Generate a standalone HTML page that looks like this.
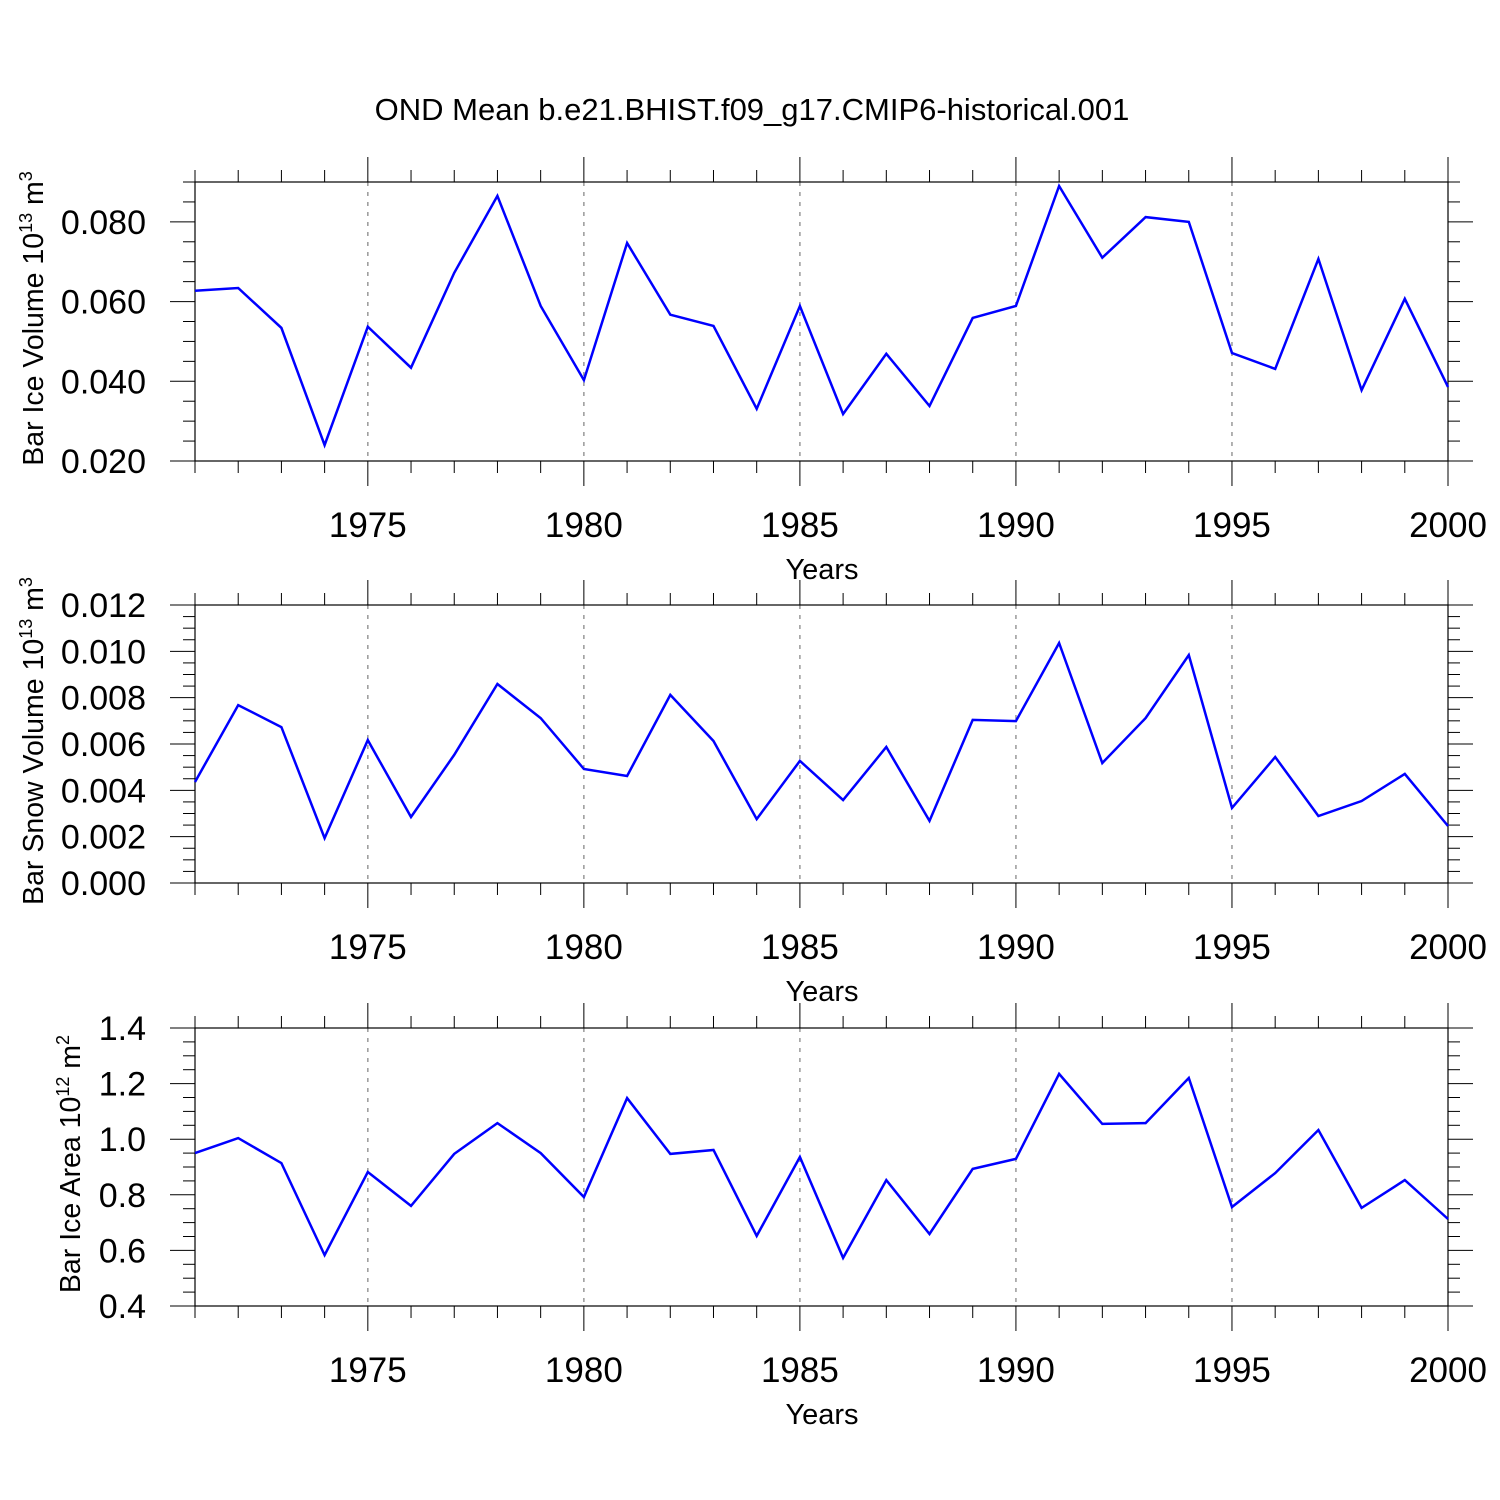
<!DOCTYPE html>
<html><head><meta charset="utf-8"><style>
html,body{margin:0;padding:0;background:#fff;}
svg{display:block;font-family:"Liberation Sans",Arial,sans-serif;}
</style></head><body>
<svg id="chart" width="1500" height="1500" viewBox="0 0 1500 1500" xmlns="http://www.w3.org/2000/svg">
<rect width="1500" height="1500" fill="#fff"/>
<text x="752" y="120" font-size="31" text-anchor="middle">OND Mean b.e21.BHIST.f09_g17.CMIP6-historical.001</text>
</svg>
<script>
const years = [1971,1972,1973,1974,1975,1976,1977,1978,1979,1980,1981,1982,1983,1984,1985,1986,1987,1988,1989,1990,1991,1992,1993,1994,1995,1996,1997,1998,1999,2000];
const iceVolume = [0.0627,0.0634,0.0534,0.0240,0.0537,0.0434,0.0672,0.0865,0.0589,0.0403,0.0747,0.0567,0.0539,0.0331,0.0589,0.0318,0.0469,0.0338,0.0559,0.0589,0.0890,0.0710,0.0812,0.0800,0.0471,0.0431,0.0707,0.0378,0.0607,0.0386];
const snowVolume = [0.00436,0.00768,0.00673,0.00194,0.00617,0.00285,0.00553,0.00859,0.00712,0.00492,0.00462,0.00812,0.00613,0.00276,0.00527,0.00358,0.00587,0.00268,0.00704,0.00699,0.01036,0.00518,0.00712,0.00984,0.00324,0.00544,0.00289,0.00354,0.00471,0.00246];
const iceArea = [0.950,1.004,0.914,0.583,0.882,0.760,0.947,1.058,0.950,0.792,1.148,0.947,0.961,0.652,0.936,0.573,0.853,0.659,0.893,0.929,1.235,1.055,1.058,1.220,0.756,0.878,1.033,0.753,0.853,0.713];
const xTickLabels = [1975,1980,1985,1990,1995,2000];
const iceVolTicks = ["0.020","0.040","0.060","0.080"];
const snowVolTicks = ["0.000","0.002","0.004","0.006","0.008","0.010","0.012"];
const iceAreaTicks = ["0.4","0.6","0.8","1.0","1.2","1.4"];

const NS = "http://www.w3.org/2000/svg";
const svg = document.getElementById('chart');
const X0 = 195, X1 = 1448;
function xScale(yr){ return X0 + (yr-1971)/(2000-1971)*(X1-X0); }
function el(tag, attrs, parent){ const e=document.createElementNS(NS,tag); for(const k in attrs) e.setAttribute(k,attrs[k]); (parent||svg).appendChild(e); return e; }

const panels = [
  {key:'ice-volume', top:182, bot:461, min:0.02, max:0.09, major:0.02, minor:0.005, ticks:iceVolTicks, data:iceVolume, title:'Bar Ice Volume 10', sup:'13', unit:' m', usup:'3', tx:33},
  {key:'snow-volume', top:605, bot:883, min:0, max:0.012, major:0.002, minor:0.0005, ticks:snowVolTicks, data:snowVolume, title:'Bar Snow Volume 10', sup:'13', unit:' m', usup:'3', tx:33},
  {key:'ice-area', top:1028, bot:1306, min:0.4, max:1.4, major:0.2, minor:0.05, ticks:iceAreaTicks, data:iceArea, title:'Bar Ice Area 10', sup:'12', unit:' m', usup:'2', tx:70}
];

panels.forEach(p=>{
  const g = el('g',{});
  
  
  const yS = v => p.bot - (v-p.min)/(p.max-p.min)*(p.bot-p.top);
  xTickLabels.slice(0,5).forEach(yr=>{
    const l = el('line',{x1:xScale(yr),x2:xScale(yr),y1:p.top,y2:p.bot,stroke:'#999','stroke-width':1.5,'stroke-dasharray':'4,6'},g);
    
    
  });
  const f = el('rect',{x:X0,y:p.top,width:X1-X0,height:p.bot-p.top,fill:'none',stroke:'#000','stroke-width':1.2},g);
  
  
  years.forEach(yr=>{
    const major = yr%5===0;
    const len = major?25:12;
    const x = xScale(yr);
    el('line',{x1:x,x2:x,y1:p.top-len,y2:p.top,stroke:'#000','stroke-width':1},g);
    el('line',{x1:x,x2:x,y1:p.bot,y2:p.bot+len,stroke:'#000','stroke-width':1},g);
  });
  xTickLabels.forEach(yr=>{
    const t = el('text',{x:xScale(yr),y:p.bot+76,'font-size':35,'text-anchor':'middle'},g);
    t.textContent = yr;
    
    
  });
  const xt = el('text',{x:822,y:p.bot+118,'font-size':29,'text-anchor':'middle'},g);
  xt.textContent='Years';
  
  
  const nMinor = Math.round((p.max-p.min)/p.minor);
  for(let i=0;i<=nMinor;i++){
    const v = p.min + i*p.minor;
    const y = yS(v);
    const major = Math.abs(((v-p.min)/p.major) - Math.round((v-p.min)/p.major))<1e-6;
    const len = major?25:12;
    el('line',{x1:X0-len,x2:X0,y1:y,y2:y,stroke:'#000','stroke-width':1},g);
    el('line',{x1:X1,x2:X1+len,y1:y,y2:y,stroke:'#000','stroke-width':1},g);
  }
  p.ticks.forEach(lbl=>{
    const t = el('text',{x:146,y:yS(parseFloat(lbl))+12,'font-size':34,'text-anchor':'end'},g);
    t.textContent = lbl;
    
    
  });
  const cy = (p.top+p.bot)/2 - 3;
  const yt = el('text',{x:0,y:0,'font-size':28.5,'text-anchor':'middle',transform:`translate(${p.tx+10},${cy}) rotate(-90)`},g);
  
  
  yt.appendChild(document.createTextNode(p.title));
  const s1 = el('tspan',{dy:-11,'font-size':18},yt); s1.textContent=p.sup;
  const s2 = el('tspan',{dy:11},yt); s2.textContent=p.unit;
  const s3 = el('tspan',{dy:-11,'font-size':18},yt); s3.textContent=p.usup;
  const pts = years.map((yr,i)=>xScale(yr).toFixed(1)+','+yS(p.data[i]).toFixed(1)).join(' ');
  const line = el('polyline',{points:pts,fill:'none',stroke:'#0000ff','stroke-width':2.5,'stroke-linejoin':'miter'},g);
  
  
});
</script>
</body></html>
